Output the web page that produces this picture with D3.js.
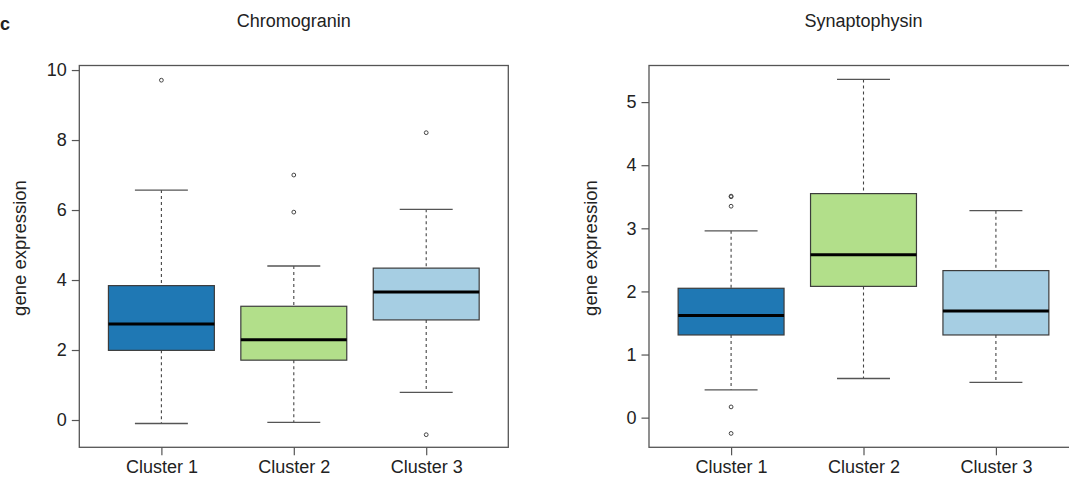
<!DOCTYPE html>
<html>
<head>
<meta charset="utf-8">
<script src="https://cdn.jsdelivr.net/npm/d3@7"></script>
<style>
  body { margin: 0; background: #fff; }
  svg text { font-family: "Liberation Sans", Arial, sans-serif; fill: #222; }
</style>
</head>
<body>
<div id="chart"></div>
<script>
let clusters = ["Cluster 1", "Cluster 2", "Cluster 3"];
let boxColors = ["#1f78b4", "#b2df8a", "#a6cee3"];

// Chromogranin
let chromoLow = [-0.1, -0.07, 0.79];
let chromoQ1 = [1.99, 1.71, 2.86];
let chromoMed = [2.74, 2.29, 3.66];
let chromoQ3 = [3.84, 3.25, 4.34];
let chromoHigh = [6.57, 4.40, 6.02];
let chromoOut = [[9.71], [7.0, 5.94], [8.21, -0.42]];
let chromoTicks = [0, 2, 4, 6, 8, 10];

// Synaptophysin
let synLow = [0.44, 0.62, 0.56];
let synQ1 = [1.31, 2.08, 1.31];
let synMed = [1.62, 2.58, 1.69];
let synQ3 = [2.05, 3.55, 2.33];
let synHigh = [2.96, 5.36, 3.28];
let synOut = [[3.51, 3.50, 3.35, 0.17, -0.25], [], []];
let synTicks = [0, 1, 2, 3, 4, 5];

let svg = d3.select("#chart").append("svg")
    .attr("width", 1069)
    .attr("height", 483);

svg.append("text")
    .attr("x", 0).attr("y", 30)
    .style("font-size", "18px").style("font-weight", "bold")
    .text("c");

function drawPanel(opt) {
    let xScale = d3.scaleLinear().domain([0.38, 3.62]).range([opt.left, opt.left + 429]);
    let yScale = d3.scaleLinear().domain(opt.yDomain).range([447.3, 65.5]);
    let g = svg.append("g");

    // frame
    g.append("rect")
        .attr("x", xScale(0.38)).attr("y", yScale(opt.yDomain[1]))
        .attr("width", xScale(3.62) - xScale(0.38))
        .attr("height", yScale(opt.yDomain[0]) - yScale(opt.yDomain[1]))
        .attr("fill", "none").attr("stroke", "#555").attr("stroke-width", 1.3);

    // y axis
    let yAxis = d3.axisLeft(yScale).tickValues(opt.ticks).tickSize(7.5).tickPadding(5)
        .tickFormat(d3.format("d"));
    let ya = g.append("g")
        .attr("transform", `translate(${xScale(0.38)},0)`)
        .call(yAxis);
    ya.select(".domain").remove();
    ya.selectAll("line").attr("stroke", "#555").attr("stroke-width", 1.2);
    ya.selectAll("text").style("font-size", "18px").attr("fill", "#222");

    // x axis
    let xAxis = d3.axisBottom(xScale).tickValues([1, 2, 3]).tickSize(8).tickPadding(5)
        .tickFormat((d, i) => clusters[i]);
    let xa = g.append("g")
        .attr("transform", `translate(0,${yScale(opt.yDomain[0])})`)
        .call(xAxis);
    xa.select(".domain").remove();
    xa.selectAll("line").attr("stroke", "#555").attr("stroke-width", 1.2);
    xa.selectAll("text").style("font-size", "18px").attr("fill", "#222");

    // title
    g.append("text")
        .attr("x", (xScale(1) + xScale(3)) / 2).attr("y", 27)
        .attr("text-anchor", "middle")
        .style("font-size", "18px")
        .text(opt.title);

    // y label
    g.append("text")
        .attr("transform", `translate(${opt.labelX},248) rotate(-90)`)
        .attr("text-anchor", "middle")
        .style("font-size", "18.5px")
        .text("gene expression");

    clusters.forEach((c, i) => {
        let cx = xScale(i + 1);
        // whiskers
        [[opt.high[i], opt.q3[i]], [opt.q1[i], opt.low[i]]].forEach(w => {
            g.append("line")
                .attr("x1", cx).attr("x2", cx)
                .attr("y1", yScale(w[0])).attr("y2", yScale(w[1]))
                .attr("stroke", "#444").attr("stroke-width", 1.1)
                .attr("stroke-dasharray", "3,3");
        });
        [opt.high[i], opt.low[i]].forEach(v => {
            g.append("line")
                .attr("x1", xScale(i + 0.8)).attr("x2", xScale(i + 1.2))
                .attr("y1", yScale(v)).attr("y2", yScale(v))
                .attr("stroke", "#555").attr("stroke-width", 1.3);
        });
        // box
        g.append("rect")
            .attr("x", xScale(i + 0.6)).attr("y", yScale(opt.q3[i]))
            .attr("width", xScale(i + 1.4) - xScale(i + 0.6))
            .attr("height", yScale(opt.q1[i]) - yScale(opt.q3[i]))
            .attr("fill", boxColors[i])
            .attr("stroke", "#3c3c3c").attr("stroke-width", 1.2);
        // median
        g.append("line")
            .attr("x1", xScale(i + 0.6)).attr("x2", xScale(i + 1.4))
            .attr("y1", yScale(opt.med[i])).attr("y2", yScale(opt.med[i]))
            .attr("stroke", "#000").attr("stroke-width", 3);
        // outliers
        g.selectAll(null).data(opt.out[i]).enter().append("circle")
            .attr("cx", cx).attr("cy", d => yScale(d))
            .attr("r", 1.9)
            .attr("fill", "none").attr("stroke", "#444").attr("stroke-width", 1);
    });
}

drawPanel({
    left: 79.3, yDomain: [-0.78, 10.13], ticks: chromoTicks, title: "Chromogranin", labelX: 26,
    low: chromoLow, q1: chromoQ1, med: chromoMed, q3: chromoQ3, high: chromoHigh, out: chromoOut
});
drawPanel({
    left: 649, yDomain: [-0.47, 5.58], ticks: synTicks, title: "Synaptophysin", labelX: 597,
    low: synLow, q1: synQ1, med: synMed, q3: synQ3, high: synHigh, out: synOut
});
</script>
</body>
</html>
